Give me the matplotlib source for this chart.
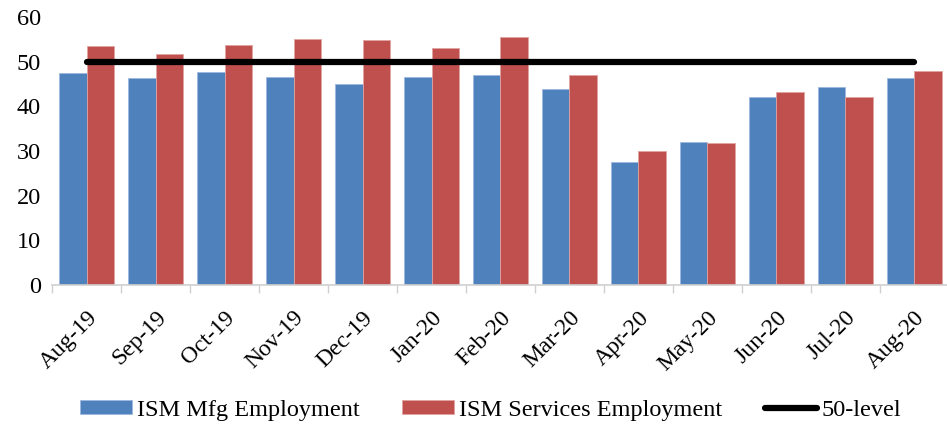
import matplotlib
matplotlib.use('Agg')
import matplotlib.pyplot as plt
import numpy as np

# Chart data
months = ['Aug-19', 'Sep-19', 'Oct-19', 'Nov-19', 'Dec-19', 'Jan-20', 'Feb-20',
          'Mar-20', 'Apr-20', 'May-20', 'Jun-20', 'Jul-20', 'Aug-20']
mfg_employment = [47.4, 46.3, 47.7, 46.6, 45.1, 46.6, 46.9, 43.8, 27.5, 32.1, 42.1, 44.3, 46.4]
services_employment = [53.6, 51.6, 53.8, 55.0, 54.9, 53.1, 55.6, 47.0, 30.0, 31.8, 43.1, 42.1, 47.9]
fifty_level = [50] * len(months)

plt.rcParams['font.family'] = ['Liberation Serif', 'DejaVu Serif']

fig = plt.figure(figsize=(9.47, 4.24), dpi=100)
ax = fig.add_axes([0.055, 0.328, 0.947, 0.632])

x = np.arange(len(months))
w = 0.4
bars_mfg = ax.bar(x - w / 2, mfg_employment, width=w, color='#4F81BD', edgecolor='#9DB9DE',
                  linewidth=0.6, label='ISM Mfg Employment', zorder=2)
bars_srv = ax.bar(x + w / 2, services_employment, width=w, color='#C0504D', edgecolor='#E0A3A1',
                  linewidth=0.6, label='ISM Services Employment', zorder=2)
line50, = ax.plot(x, fifty_level, color='black', linewidth=4.5, solid_capstyle='round',
                  label='50-level', zorder=3)

ax.set_xlim(-0.5, len(months) - 0.5)
ax.set_ylim(0, 60)
ax.set_yticks(range(0, 61, 10))
ax.tick_params(axis='y', length=0, labelsize=17.5, pad=8)

# category labels at bar group centres, tick marks between groups
ax.set_xticks(x)
ax.set_xticklabels(months, rotation=45, ha='right', rotation_mode='anchor', fontsize=17)
ax.tick_params(axis='x', which='major', length=0, pad=16)
ax.set_xticks(np.arange(-0.5, len(months) - 0.4, 1), minor=True)
ax.tick_params(axis='x', which='minor', length=6, color='#D0D0D0', width=1)

for side in ['top', 'right', 'left']:
    ax.spines[side].set_visible(False)
ax.spines['bottom'].set_color('#D0D0D0')
ax.spines['bottom'].set_linewidth(1.2)

fig.legend([bars_mfg, bars_srv, line50],
           ['ISM Mfg Employment', 'ISM Services Employment', '50-level'],
           loc='center', bbox_to_anchor=(0.518, 0.033), ncol=3,
           frameon=False, fontsize=17.5, handlelength=2.15, handleheight=0.5,
           handletextpad=0.2, columnspacing=1.75)

fig.savefig('out.png', dpi=100)
plt.close(fig)
